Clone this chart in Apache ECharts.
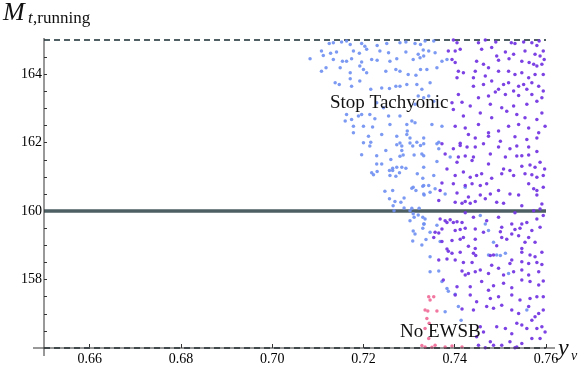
<!DOCTYPE html>
<html>
<head>
<meta charset="utf-8">
<script src="https://cdn.jsdelivr.net/npm/echarts@6/dist/echarts.min.js"></script>
<style>html,body{margin:0;padding:0;background:#fff}#c{width:581px;height:368px}</style>
</head>
<body>
<div id="c"></div>
<script>
// ---- data ----
const xRange = [0.65, 0.76];
const yRange = [156, 165];
const xTickLabels = [0.66, 0.68, 0.70, 0.72, 0.74, 0.76];
const yTickLabels = [158, 160, 162, 164];
const yMinorTicks = [156.5,157,157.5,158,158.5,159,159.5,160,160.5,161,161.5,162,162.5,163,163.5,164,164.5];
const boundaryDashed = [165, 156];
const boundarySolid = [160];

// light blue points ("Stop Tachyonic" region)
const bluePoints = [
[0.7125,164.90],[0.7134,164.92],[0.7152,164.94],[0.7163,164.97],[0.7171,164.87],[0.7196,164.90],[0.7203,164.82],[0.7230,164.84],[0.7251,164.90],[0.7280,164.92],[0.7293,164.94],[0.7313,164.90],[0.7325,164.87],
[0.7108,164.68],[0.7128,164.61],[0.7141,164.65],[0.7178,164.68],[0.7191,164.61],[0.7207,164.73],[0.7236,164.68],[0.7255,164.63],[0.7293,164.65],[0.7320,164.58],[0.7331,164.71],
[0.7083,164.45],[0.7112,164.55],[0.7134,164.43],[0.7154,164.38],[0.7163,164.38],[0.7174,164.45],[0.7196,164.36],[0.7218,164.43],[0.7230,164.41],[0.7258,164.38],[0.7273,164.45],[0.7309,164.43],[0.7324,164.48],
[0.7118,164.19],[0.7108,164.09],[0.7149,164.19],[0.7171,164.04],[0.7192,164.24],[0.7200,164.14],[0.7207,164.04],[0.7249,164.09],[0.7271,164.14],[0.7280,164.09],[0.7298,163.99],[0.7315,163.97],[0.7325,164.14],
[0.7138,163.75],[0.7147,163.70],[0.7171,163.87],[0.7174,163.65],[0.7192,163.80],[0.7216,163.56],[0.7240,163.60],[0.7257,163.58],[0.7271,163.65],[0.7280,163.65],[0.7295,163.70],[0.7317,163.70],[0.7328,163.56],
[0.7229,163.17],[0.7244,163.02],[0.7313,163.12],[0.7320,163.36],
[0.7163,162.82],[0.7174,162.68],[0.7189,162.78],[0.7196,162.82],[0.7214,162.82],[0.7225,162.70],[0.7255,162.78],[0.7280,162.78],[0.7306,162.63],[0.7295,162.53],[0.7258,162.53],[0.7220,162.46],[0.7200,162.48],[0.7178,162.48],[0.7160,162.63],[0.7313,162.58],
[0.7178,162.29],[0.7211,162.19],[0.7240,162.24],[0.7273,162.19],[0.7295,162.24],[0.7302,162.14],[0.7216,162.01],[0.7280,161.99],[0.7317,162.01],[0.7296,162.34],
[0.7335,164.97],[0.7354,164.97],[0.7343,164.68],[0.7332,164.53],[0.7357,164.63],[0.7372,164.38],[0.7383,164.43],[0.7361,164.19],[0.7339,164.14],[0.7346,163.75],[0.7343,163.36],[0.7332,163.31],[0.7354,163.21],[0.7350,162.53],[0.7372,162.48],[0.7365,162.01],[0.7332,162.14],
[0.7200,162.00],[0.7214,161.90],[0.7273,161.94],[0.7284,161.90],[0.7302,161.99],[0.7308,161.90],[0.7325,161.92],[0.7249,161.77],[0.7284,161.77],[0.7196,161.65],[0.7229,161.62],[0.7260,161.51],[0.7280,161.60],[0.7287,161.64],[0.7311,161.64],[0.7328,161.67],
[0.7229,161.38],[0.7240,161.38],[0.7273,161.28],[0.7264,161.25],[0.7284,161.28],[0.7293,161.25],[0.7218,161.12],[0.7230,161.16],[0.7222,161.06],[0.7257,161.19],[0.7264,161.19],[0.7279,161.12],[0.7258,161.04],[0.7271,161.02],[0.7318,161.09],[0.7330,160.96],
[0.7309,160.70],[0.7306,160.67],[0.7315,160.60],[0.7330,160.73],[0.7333,160.47],[0.7247,160.58],[0.7264,160.60],[0.7257,160.36],[0.7269,160.28],[0.7282,160.26],[0.7289,160.38],[0.7265,160.16],[0.7267,160.01],[0.7289,160.09],[0.7302,160.01],[0.7306,160.08],[0.7322,160.08],
[0.7309,159.92],[0.7320,159.89],[0.7311,159.82],[0.7330,159.82],[0.7302,159.72],[0.7333,159.62],[0.7330,159.50],[0.7309,159.42],[0.7313,159.33],[0.7308,159.13],[0.7328,159.01],
[0.7332,161.97],[0.7361,161.97],[0.7365,161.82],[0.7332,161.62],[0.7361,161.45],[0.7390,161.58],[0.7332,161.28],[0.7354,161.04],[0.7332,160.75],[0.7343,160.75],[0.7357,160.65],[0.7332,160.50],[0.7346,160.55],[0.7379,160.50],[0.7423,160.70],
[0.7456,159.87],[0.7335,159.77],[0.7332,159.62],[0.7361,159.59],[0.7467,159.62],[0.7474,159.43],[0.7337,159.17],[0.7368,159.11],[0.7346,159.38],[0.7485,159.09],
[0.7346,158.67],[0.7365,158.25],[0.7346,158.23],[0.7372,157.94],[0.7383,157.74],[0.7386,157.66],[0.7401,157.57],[0.7379,157.06],[0.7408,157.21],[0.7414,156.81],[0.7511,158.77],[0.7500,158.70],[0.7518,158.18],[0.7558,157.11],[0.7474,158.72],[0.7492,158.72]
];

// purple points
const purplePoints = [
[0.7397,165.00],[0.7405,164.92],[0.7452,164.92],[0.7467,165.00],[0.7490,164.94],[0.7524,164.92],[0.7532,164.90],[0.7551,164.94],[0.7569,164.92],[0.7585,164.97],[0.7580,164.84],
[0.7386,164.68],[0.7401,164.68],[0.7412,164.73],[0.7459,164.73],[0.7481,164.78],[0.7511,164.65],[0.7529,164.58],[0.7554,164.68],[0.7576,164.58],[0.7594,164.68],[0.7587,164.53],[0.7492,164.53],
[0.7394,164.43],[0.7401,164.34],[0.7448,164.38],[0.7463,164.29],[0.7474,164.19],[0.7496,164.41],[0.7519,164.45],[0.7547,164.38],[0.7563,164.34],[0.7573,164.29],[0.7580,164.24],[0.7591,164.29],[0.7596,164.43],
[0.7408,164.09],[0.7419,164.04],[0.7445,164.09],[0.7467,163.95],[0.7496,164.09],[0.7518,164.09],[0.7532,163.99],[0.7547,164.04],[0.7562,163.90],[0.7576,163.99],[0.7594,163.99],[0.7405,163.90],[0.7441,163.90],
[0.7441,163.65],[0.7463,163.70],[0.7481,163.80],[0.7496,163.56],[0.7507,163.70],[0.7518,163.75],[0.7540,163.65],[0.7551,163.70],[0.7569,163.75],[0.7584,163.65],[0.7594,163.51],[0.7489,163.48],[0.7529,163.51],[0.7558,163.56],
[0.7408,163.41],[0.7452,163.31],[0.7474,163.36],[0.7511,163.41],[0.7540,163.38],[0.7569,163.41],[0.7591,163.31],[0.7394,163.17],[0.7416,163.18],[0.7434,163.07],[0.7478,163.12],[0.7503,163.02],[0.7529,163.07],[0.7558,163.12],[0.7580,163.21],
[0.7397,162.97],[0.7419,162.78],[0.7456,162.87],[0.7481,162.73],[0.7514,162.92],[0.7536,162.82],[0.7554,162.73],[0.7580,162.68],[0.7591,162.87],
[0.7401,162.48],[0.7423,162.43],[0.7452,162.53],[0.7474,162.29],[0.7496,162.34],[0.7518,162.48],[0.7540,162.53],[0.7562,162.43],[0.7584,162.29],[0.7598,162.48],[0.7430,162.24],
[0.7412,161.98],[0.7445,162.14],[0.7474,162.19],[0.7500,162.04],[0.7532,162.17],[0.7558,162.09],[0.7580,162.14],
[0.7372,161.97],[0.7397,161.82],[0.7412,161.92],[0.7427,161.87],[0.7445,161.87],[0.7463,161.97],[0.7496,161.87],[0.7521,161.82],[0.7536,161.90],[0.7562,161.87],[0.7580,161.74],
[0.7379,161.67],[0.7408,161.58],[0.7423,161.61],[0.7441,161.58],[0.7478,161.67],[0.7511,161.58],[0.7536,161.61],[0.7547,161.62],[0.7562,161.64],
[0.7383,161.23],[0.7405,161.43],[0.7438,161.48],[0.7474,161.38],[0.7507,161.23],[0.7547,161.31],[0.7565,161.35],[0.7576,161.28],[0.7587,161.43],[0.7597,161.23],
[0.7401,161.04],[0.7419,161.14],[0.7434,160.99],[0.7448,161.04],[0.7459,161.09],[0.7481,160.96],[0.7503,161.09],[0.7521,161.19],[0.7529,161.04],[0.7554,161.09],[0.7569,161.06],[0.7580,160.99],[0.7594,161.04],
[0.7372,160.82],[0.7397,160.80],[0.7405,160.53],[0.7423,160.75],[0.7438,160.80],[0.7456,160.75],[0.7470,160.80],[0.7562,160.80],[0.7573,160.65],[0.7580,160.60],[0.7594,160.70],
[0.7368,160.60],[0.7430,160.41],[0.7456,160.47],[0.7467,160.36],[0.7478,160.50],[0.7496,160.60],[0.7521,160.50],[0.7540,160.47],[0.7580,160.47],
[0.7365,160.31],[0.7401,160.26],[0.7416,160.23],[0.7423,160.28],[0.7434,160.23],[0.7445,160.28],[0.7492,160.26],[0.7507,160.23],[0.7547,160.16],[0.7573,160.01],[0.7587,160.06],[0.7591,160.21],
[0.7423,159.95],[0.7532,159.95],
[0.7368,159.77],[0.7379,159.72],[0.7390,159.75],[0.7397,159.67],[0.7372,159.48],[0.7383,159.67],[0.7405,159.69],[0.7416,159.67],[0.7441,159.82],[0.7470,159.72],[0.7496,159.82],[0.7503,159.53],[0.7525,159.62],[0.7547,159.62],[0.7558,159.67],[0.7580,159.77],[0.7594,159.87],
[0.7357,159.38],[0.7365,159.36],[0.7401,159.43],[0.7412,159.46],[0.7423,159.50],[0.7445,159.48],[0.7463,159.38],[0.7500,159.40],[0.7525,159.33],[0.7532,159.46],[0.7543,159.50],[0.7569,159.43],[0.7587,159.53],
[0.7354,159.23],[0.7372,159.11],[0.7394,159.14],[0.7412,159.18],[0.7419,159.23],[0.7445,159.18],[0.7503,159.23],[0.7514,159.18],[0.7540,159.28],[0.7562,159.23],[0.7576,159.09],[0.7554,159.09],
[0.7383,158.89],[0.7430,158.97],[0.7445,158.91],[0.7492,158.99],[0.7547,158.91],
[0.7386,158.83],[0.7394,158.77],[0.7412,158.80],[0.7441,158.77],[0.7446,158.70],[0.7478,158.70],[0.7485,158.72],[0.7525,158.57],[0.7547,158.80],[0.7565,158.72],[0.7576,158.67],[0.7591,158.80],
[0.7365,158.57],[0.7383,158.60],[0.7401,158.57],[0.7419,158.50],[0.7438,158.50],[0.7481,158.42],[0.7521,158.47],[0.7547,158.52],[0.7562,158.47],[0.7580,158.50],[0.7591,158.44],
[0.7416,158.25],[0.7430,158.18],[0.7445,158.23],[0.7423,158.13],[0.7456,158.28],[0.7474,158.18],[0.7496,158.33],[0.7507,158.13],[0.7529,158.23],[0.7547,158.28],[0.7562,158.13],[0.7584,158.23],
[0.7375,157.99],[0.7405,157.79],[0.7434,157.79],[0.7459,157.94],[0.7474,157.69],[0.7485,157.82],[0.7507,157.89],[0.7525,157.76],[0.7547,157.99],[0.7565,157.94],[0.7584,157.84],[0.7594,157.96],
[0.7401,157.55],[0.7434,157.55],[0.7448,157.35],[0.7478,157.45],[0.7496,157.50],[0.7525,157.55],[0.7543,157.40],[0.7565,157.45],[0.7580,157.50],[0.7594,157.50],
[0.7416,157.14],[0.7441,157.11],[0.7470,157.21],[0.7485,157.16],[0.7503,157.25],[0.7525,157.11],[0.7540,157.01],[0.7562,157.21],[0.7576,156.91],[0.7584,157.01],[0.7594,157.11],
[0.7456,156.62],[0.7463,156.47],[0.7448,156.33],[0.7492,156.62],[0.7511,156.57],[0.7525,156.42],[0.7536,156.72],[0.7547,156.67],[0.7558,156.57],[0.7569,156.81],[0.7580,156.57],[0.7591,156.62],[0.7598,156.47],
[0.7452,156.08],[0.7478,156.18],[0.7485,156.08],[0.7503,156.08],[0.7521,156.18],[0.7536,156.03],[0.7547,156.13],[0.7569,156.28],[0.7587,156.28],[0.7467,156.01],[0.7532,156.01]
];

// pink points ("No EWSB" region)
const pinkPoints = [
[0.7343,157.50],[0.7354,157.50],[0.7346,157.40],[0.7335,157.11],[0.7341,157.08],[0.7361,157.08],[0.7339,156.86],[0.7344,156.72],[0.7335,156.57],[0.7343,156.28],
[0.7335,156.03],[0.7350,156.02],[0.7357,156.08],[0.7379,156.03],[0.7394,156.06],[0.7416,156.03],[0.7328,156.07]
];

// ---- chart ----
const chart = echarts.init(document.getElementById('c'), null, {renderer: 'canvas'});
const serif = '"Liberation Serif", "DejaVu Serif", serif';
const axisColor = '#333';

const option = {
  animation: false,
  backgroundColor: '#fff',
  grid: {left: 44, right: 35, top: 40, bottom: 20, containLabel: false},
  xAxis: {
    type: 'value', min: xRange[0], max: xRange[1],
    axisLine: {show: false},
    splitLine: {show: false},
    axisTick: {show: true, inside: true, length: 4, customValues: xTickLabels, lineStyle: {color: axisColor, width: 1}},
    axisLabel: {show: true, customValues: xTickLabels, margin: 4, fontFamily: serif, fontSize: 14, color: '#000',
      formatter: v => v.toFixed(2)}
  },
  yAxis: {
    type: 'value', min: yRange[0], max: yRange[1],
    axisLine: {show: false},
    splitLine: {show: false},
    axisTick: {show: true, inside: true, length: 3, customValues: yMinorTicks, lineStyle: {color: axisColor, width: 1}},
    axisLabel: {show: true, customValues: yTickLabels, margin: 2, fontFamily: serif, fontSize: 14, color: '#000'}
  },
  series: [
    {
      type: 'scatter', name: 'blue', data: bluePoints, symbol: 'circle', symbolSize: 3.5, clip: false,
      itemStyle: {color: '#6f8ff2', opacity: 0.9}, z: 3,
      markLine: {
        silent: true, symbol: ['none', 'none'], label: {show: false}, z: 1,
        data: [
          ...boundaryDashed.map(v => ({yAxis: v, lineStyle: {type: [6, 4], color: '#4f5f64', width: 2.2}})),
          ...boundarySolid.map(v => ({yAxis: v, lineStyle: {type: 'solid', color: '#4e5f63', width: 3.5}}))
        ]
      }
    },
    {type: 'scatter', name: 'purple', data: purplePoints, symbol: 'circle', symbolSize: 3.5, clip: false,
      itemStyle: {color: '#7538e2', opacity: 0.95}, z: 3},
    {type: 'scatter', name: 'pink', data: pinkPoints, symbol: 'circle', symbolSize: 3.5, clip: false,
      itemStyle: {color: '#f0709c', opacity: 0.95}, z: 3}
  ]
};
chart.setOption(option);

// axis lines (Mathematica-style, extending a bit beyond the frame) and labels
const o = chart.convertToPixel({gridIndex: 0}, [xRange[0], yRange[0]]);
const e = chart.convertToPixel({gridIndex: 0}, [xRange[1], yRange[1]]);
chart.setOption({
  graphic: [
    {type: 'line', shape: {x1: o[0] - 11, y1: o[1], x2: e[0] + 9, y2: o[1]}, style: {stroke: axisColor, lineWidth: 1}, z: 10},
    {type: 'line', shape: {x1: o[0], y1: e[1] - 2, x2: o[0], y2: o[1] + 8}, style: {stroke: axisColor, lineWidth: 1}, z: 10},
    {type: 'text', left: 3, top: 0, style: {text: 'M', font: 'italic 26px ' + serif, fill: '#111'}, z: 10},
    {type: 'text', left: 28, top: 10, style: {text: 't', font: 'italic 17px ' + serif, fill: '#111'}, z: 10},
    {type: 'text', left: 33, top: 10, style: {text: ',running', font: '17px ' + serif, fill: '#111'}, z: 10},
    {type: 'text', left: 558, top: 337, style: {text: 'y', font: 'italic 24px ' + serif, fill: '#111'}, z: 10},
    {type: 'text', left: 571, top: 349, style: {text: 'ν', font: 'italic 14px ' + serif, fill: '#111'}, z: 10},
    {type: 'text', left: 330, top: 94, style: {text: 'Stop Tachyonic', font: '19px ' + serif, fill: '#111'}, z: 10},
    {type: 'text', left: 400, top: 323, style: {text: 'No EWSB', font: '19px ' + serif, fill: '#111'}, z: 10}
  ]
});
</script>
</body>
</html>
